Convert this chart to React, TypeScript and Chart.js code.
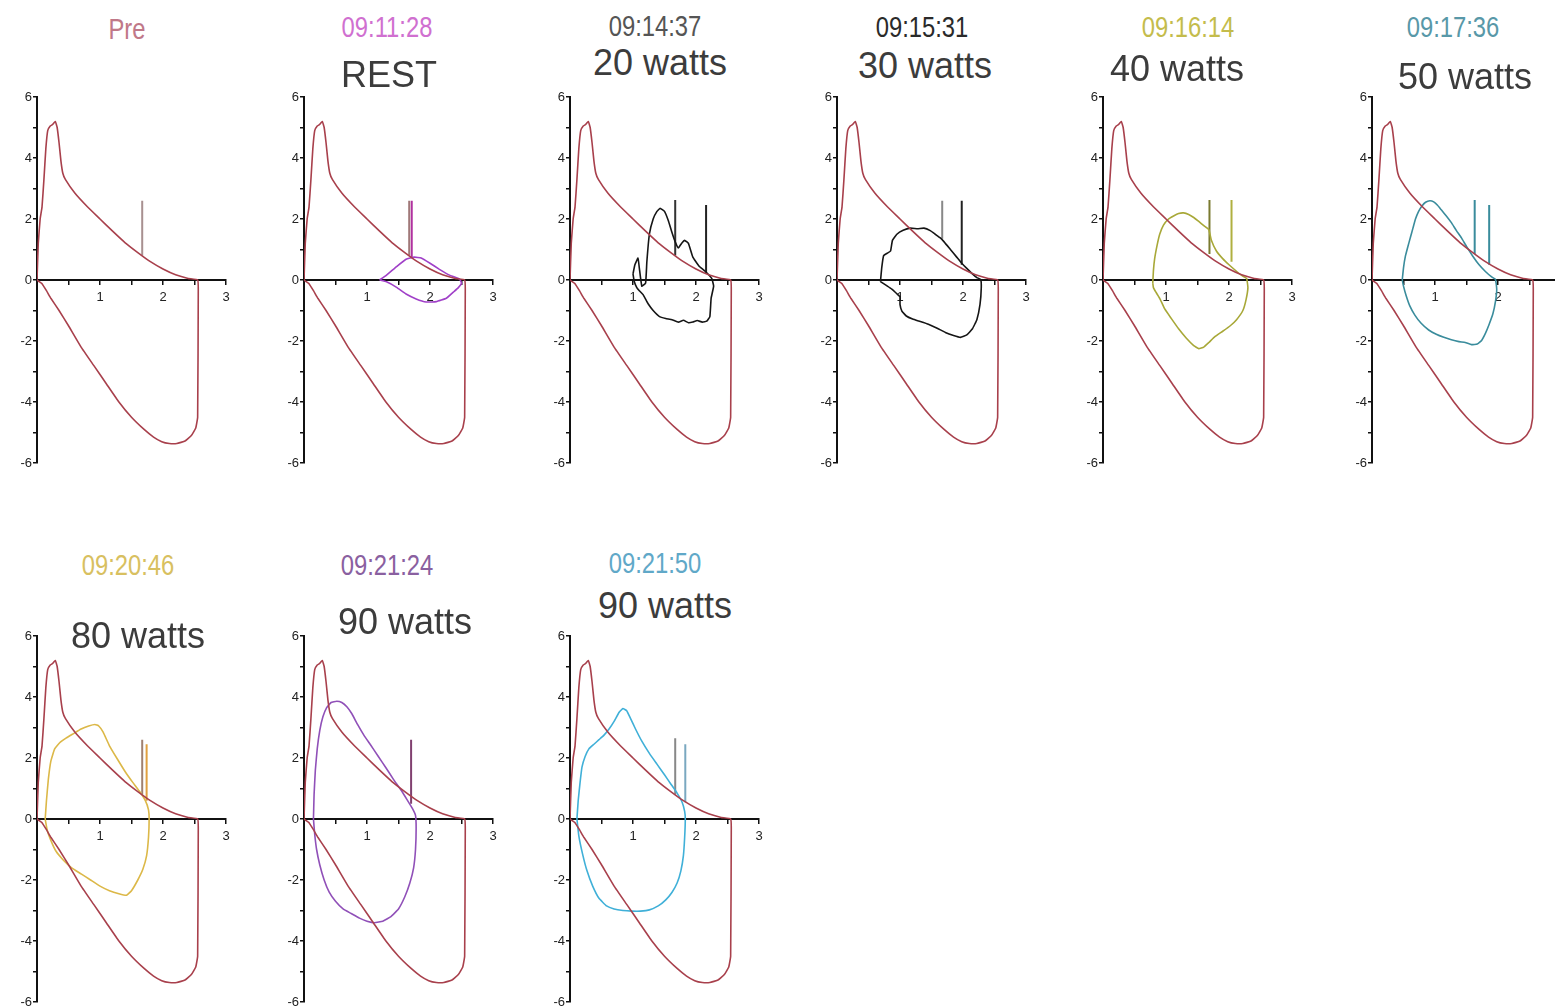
import React, { useEffect, useRef } from "react";
import { Chart, registerables } from "chart.js";

Chart.register(...registerables);

// ---------------- data ----------------
// maximal flow-volume loop (volume L, flow L/s), shared by all panels
const maxVolume = [0, 0.02, 0.05, 0.08, 0.11, 0.14, 0.17, 0.21, 0.25, 0.29, 0.32, 0.35, 0.38, 0.41, 0.45, 0.6, 0.8, 1.0, 1.2, 1.4, 1.6, 1.8, 2.0, 2.2, 2.4, 2.55, 2.56, 2.55, 2.52, 2.45, 2.35, 2.22, 2.1, 1.98, 1.85, 1.7, 1.5, 1.3, 1.1, 0.9, 0.7, 0.5, 0.35, 0.22, 0.15, 0.08, 0];
const maxFlow = [0, 1.2, 2.0, 2.4, 3.3, 4.3, 4.9, 5.05, 5.1, 5.2, 5.0, 4.5, 3.9, 3.5, 3.3, 2.85, 2.4, 2.0, 1.6, 1.22, 0.9, 0.6, 0.36, 0.17, 0.05, 0, -0.3, -4.5, -4.85, -5.1, -5.28, -5.36, -5.36, -5.3, -5.15, -4.9, -4.5, -4.0, -3.4, -2.8, -2.2, -1.5, -1.0, -0.6, -0.35, -0.12, 0];

// tidal loops
const restVolume = [1.2, 1.31, 1.47, 1.62, 1.75, 1.86, 2.0, 2.15, 2.31, 2.47, 2.5, 2.45, 2.37, 2.26, 2.1, 1.94, 1.78, 1.62, 1.47, 1.31, 1.2];
const restFlow = [0, 0.16, 0.44, 0.68, 0.75, 0.72, 0.55, 0.35, 0.16, 0.03, -0.1, -0.25, -0.4, -0.6, -0.71, -0.72, -0.62, -0.46, -0.24, -0.06, 0];

const w20Volume = [1.0, 1.03, 1.08, 1.1, 1.14, 1.2, 1.22, 1.26, 1.32, 1.38, 1.43, 1.5, 1.56, 1.62, 1.67, 1.72, 1.77, 1.82, 1.88, 1.95, 2.05, 2.15, 2.25, 2.28, 2.24, 2.22, 2.17, 2.1, 2.02, 1.95, 1.88, 1.8, 1.72, 1.62, 1.52, 1.42, 1.32, 1.24, 1.16, 1.1, 1.06, 1.02, 1.0];
const w20Flow = [0.2, 0.5, 0.72, 0.4, -0.2, -0.1, 0.6, 1.5, 2.0, 2.25, 2.35, 2.25, 1.95, 1.55, 1.25, 1.05, 1.2, 1.3, 1.2, 0.75, 0.45, 0.28, 0.05, -0.2, -0.6, -1.2, -1.35, -1.38, -1.33, -1.38, -1.4, -1.32, -1.38, -1.3, -1.26, -1.2, -1.0, -0.78, -0.48, -0.35, -0.25, -0.05, 0.2];

const w30Volume = [0.69, 0.71, 0.74, 0.8, 0.85, 0.88, 0.95, 1.05, 1.16, 1.28, 1.38, 1.48, 1.56, 1.64, 1.7, 1.8, 1.9, 1.98, 2.06, 2.14, 2.22, 2.28, 2.29, 2.27, 2.22, 2.15, 2.06, 1.96, 1.85, 1.72, 1.59, 1.45, 1.32, 1.2, 1.1, 1.03, 1.0, 1.0, 0.95, 0.87, 0.8, 0.74, 0.69];
const w30Flow = [-0.05, 0.4, 0.8, 0.88, 0.95, 1.3, 1.5, 1.63, 1.7, 1.68, 1.7, 1.62, 1.5, 1.38, 1.25, 1.0, 0.75, 0.55, 0.38, 0.22, 0.08, 0.02, -0.25, -0.8, -1.3, -1.6, -1.8, -1.88, -1.82, -1.72, -1.58, -1.45, -1.36, -1.28, -1.18, -1.02, -0.8, -0.55, -0.45, -0.3, -0.2, -0.12, -0.05];

const w40Volume = [0.79, 0.8, 0.82, 0.86, 0.9, 0.96, 1.04, 1.12, 1.2, 1.28, 1.36, 1.44, 1.52, 1.6, 1.68, 1.72, 1.8, 1.9, 2.0, 2.1, 2.2, 2.28, 2.3, 2.27, 2.22, 2.12, 2.02, 1.9, 1.78, 1.68, 1.6, 1.52, 1.44, 1.32, 1.2, 1.08, 0.98, 0.9, 0.84, 0.8, 0.79];
const w40Flow = [-0.1, 0.3, 0.7, 1.15, 1.5, 1.8, 2.0, 2.1, 2.18, 2.2, 2.15, 2.05, 1.92, 1.78, 1.65, 1.3, 0.95, 0.7, 0.5, 0.32, 0.15, 0.05, -0.25, -0.65, -1.0, -1.3, -1.5, -1.68, -1.85, -2.05, -2.2, -2.25, -2.15, -1.9, -1.6, -1.25, -0.95, -0.6, -0.4, -0.25, -0.1];

const w50Volume = [0.48, 0.5, 0.53, 0.57, 0.61, 0.65, 0.69, 0.74, 0.79, 0.85, 0.92, 0.98, 1.04, 1.1, 1.18, 1.26, 1.34, 1.42, 1.5, 1.6, 1.7, 1.8, 1.9, 1.96, 1.98, 1.96, 1.92, 1.86, 1.8, 1.74, 1.67, 1.58, 1.48, 1.38, 1.26, 1.14, 1.02, 0.9, 0.78, 0.68, 0.6, 0.54, 0.5, 0.48];
const w50Flow = [0, 0.4, 0.78, 1.1, 1.4, 1.7, 2.0, 2.25, 2.42, 2.55, 2.6, 2.56, 2.45, 2.3, 2.1, 1.88, 1.62, 1.38, 1.1, 0.78, 0.5, 0.28, 0.1, 0.02, -0.3, -0.7, -1.1, -1.45, -1.75, -1.98, -2.1, -2.12, -2.05, -2.02, -1.96, -1.88, -1.78, -1.64, -1.42, -1.15, -0.85, -0.5, -0.2, 0];

const w80Volume = [0.13, 0.15, 0.18, 0.22, 0.28, 0.36, 0.46, 0.58, 0.7, 0.82, 0.92, 0.98, 1.05, 1.15, 1.28, 1.4, 1.52, 1.63, 1.72, 1.77, 1.78, 1.77, 1.74, 1.68, 1.6, 1.5, 1.42, 1.3, 1.15, 1.0, 0.85, 0.7, 0.55, 0.42, 0.3, 0.22, 0.16, 0.13];
const w80Flow = [0, 0.6, 1.3, 1.9, 2.3, 2.5, 2.65, 2.8, 2.95, 3.05, 3.1, 3.05, 2.85, 2.4, 1.95, 1.55, 1.2, 0.9, 0.6, 0.3, 0, -0.6, -1.2, -1.65, -2.0, -2.35, -2.5, -2.45, -2.35, -2.2, -2.0, -1.8, -1.6, -1.35, -1.05, -0.7, -0.35, 0];

const w90aVolume = [0.15, 0.16, 0.18, 0.21, 0.25, 0.3, 0.36, 0.43, 0.52, 0.6, 0.68, 0.76, 0.85, 0.95, 1.05, 1.18, 1.3, 1.42, 1.54, 1.64, 1.72, 1.77, 1.78, 1.77, 1.74, 1.68, 1.6, 1.5, 1.38, 1.25, 1.12, 1.0, 0.88, 0.75, 0.62, 0.5, 0.4, 0.32, 0.25, 0.2, 0.17, 0.15];
const w90aFlow = [0, 0.8, 1.6, 2.3, 2.9, 3.35, 3.65, 3.82, 3.86, 3.82, 3.68, 3.45, 3.1, 2.75, 2.45, 2.05, 1.68, 1.3, 0.95, 0.62, 0.35, 0.12, -0.3, -1.0, -1.6, -2.1, -2.55, -2.95, -3.2, -3.35, -3.4, -3.35, -3.25, -3.1, -2.95, -2.7, -2.4, -2.0, -1.5, -1.0, -0.5, 0];

const w90bVolume = [0.11, 0.13, 0.16, 0.19, 0.24, 0.3, 0.38, 0.46, 0.54, 0.62, 0.7, 0.78, 0.84, 0.9, 0.96, 1.04, 1.14, 1.26, 1.38, 1.5, 1.6, 1.7, 1.78, 1.82, 1.83, 1.82, 1.8, 1.76, 1.7, 1.62, 1.52, 1.4, 1.26, 1.12, 0.98, 0.84, 0.7, 0.58, 0.46, 0.36, 0.27, 0.2, 0.14, 0.11];
const w90bFlow = [0, 0.6, 1.2, 1.7, 2.05, 2.3, 2.45, 2.6, 2.75, 2.95, 3.2, 3.5, 3.62, 3.55, 3.3, 2.95, 2.55, 2.15, 1.8, 1.45, 1.15, 0.85, 0.55, 0.25, 0, -0.6, -1.2, -1.7, -2.1, -2.4, -2.65, -2.85, -2.98, -3.02, -3.02, -3.0, -2.95, -2.85, -2.6, -2.2, -1.7, -1.15, -0.55, 0];

// vertical IC markers (volume, top flow, bottom flow) per panel
const markerVolumes = [[1.67], [1.67, 1.71], [1.67, 2.16], [1.67, 1.98], [1.69, 2.04], [1.63, 1.86], [1.67, 1.74], [1.7], [1.67, 1.83]];
const markerTops = [[2.6], [2.6, 2.6], [2.62, 2.46], [2.6, 2.6], [2.62, 2.62], [2.62, 2.46], [2.6, 2.45], [2.6], [2.65, 2.45]];
const markerBottoms = [[0.8], [0.8, 0.75], [0.8, 0.22], [1.35, 0.5], [0.85, 0.6], [0.85, 0.5], [0.8, 0.6], [0.5], [0.8, 0.55]];

// titles
const panelTimes = ["Pre", "09:11:28", "09:14:37", "09:15:31", "09:16:14", "09:17:36", "09:20:46", "09:21:24", "09:21:50"];
const panelLoads = ["", "REST", "20 watts", "30 watts", "40 watts", "50 watts", "80 watts", "90 watts", "90 watts"];

// axis ranges / ticks
const volumeRange = [0, 3];
const flowRange = [-6, 6];

// ---------------- styles & layout ----------------
const loops: (number[][] | null)[] = [
  null,
  [restVolume, restFlow],
  [w20Volume, w20Flow],
  [w30Volume, w30Flow],
  [w40Volume, w40Flow],
  [w50Volume, w50Flow],
  [w80Volume, w80Flow],
  [w90aVolume, w90aFlow],
  [w90bVolume, w90bFlow],
];
const MAX_COLOR = "#a8404c";
const timeColors = ["#c07888", "#d070d0", "#555555", "#2a2a2a", "#c4bc4c", "#5898a8", "#d8c060", "#8a60a0", "#60a8c8"];
const loopColors = ["", "#a040c8", "#151515", "#151515", "#a8a838", "#3a8c9c", "#dcb848", "#9050b8", "#40b0d8"];
const markerColors = [["#a89090"], ["#a07878", "#b030a0"], ["#333333", "#222222"], ["#888888", "#222222"], ["#7a7a30", "#b0b040"], ["#3a8c9c", "#3a8c9c"], ["#a08070", "#e0a040"], ["#804070"], ["#888888", "#7aa8c0"]];

const PLOT_W = 189;
const PLOT_H = 366;
const Y_AXIS_W = 20;
const PAD = { left: 4, right: 10, top: 10, bottom: 22 };
const panelAxisX = [37, 304, 570, 837, 1103, 1372, 37, 304, 570];
const panelTopY = [97, 97, 97, 97, 97, 97, 636, 636, 636];
const timePos = [[127, 29], [387, 27], [655, 26], [922, 27], [1188, 27], [1453, 27], [128, 565], [387, 565], [655, 563]];
const loadPos = [[0, 0], [389, 75], [660, 63], [925, 66], [1177, 69], [1465, 77], [138, 636], [405, 622], [665, 606]];

function pts(xs: number[], ys: number[]) {
  return xs.map((x, i) => ({ x, y: ys[i] }));
}

function lineDs(xs: number[], ys: number[], color: string, width: number, tension: number) {
  return {
    data: pts(xs, ys),
    showLine: true,
    borderColor: color,
    backgroundColor: color,
    borderWidth: width,
    pointRadius: 0,
    pointHoverRadius: 0,
    fill: false,
    tension,
  };
}

function Panel({ idx }: { idx: number }) {
  const ref = useRef<HTMLCanvasElement | null>(null);
  useEffect(() => {
    const canvas = ref.current;
    if (!canvas) return;
    const datasets: any[] = [];
    datasets.push(lineDs(maxVolume, maxFlow, MAX_COLOR, 1.6, 0.1));
    const lp = loops[idx];
    if (lp) datasets.push(lineDs(lp[0], lp[1], loopColors[idx], 1.6, 0.1));
    markerVolumes[idx].forEach((v, k) => {
      datasets.push(lineDs([v, v], [markerTops[idx][k], markerBottoms[idx][k]], markerColors[idx][k], 2, 0));
    });
    const tickFont = { family: '"Liberation Sans", Arial, sans-serif', size: 13 };
    const chart = new Chart(canvas, {
      type: "scatter",
      data: { datasets },
      options: {
        animation: false,
        responsive: false,
        maintainAspectRatio: false,
        events: [],
        layout: { padding: PAD },
        plugins: { legend: { display: false }, tooltip: { enabled: false }, title: { display: false } },
        scales: {
          x: {
            type: "linear",
            min: volumeRange[0],
            max: volumeRange[1],
            position: { y: 0 } as any,
            afterFit: (s: any) => {
              s.height = 0;
            },
            border: { display: true, color: "#111", width: 2 },
            grid: { display: true, drawOnChartArea: false, drawTicks: true, tickLength: 4, color: "#111", lineWidth: 1.5 },
            ticks: {
              stepSize: 0.5,
              autoSkip: false,
              maxRotation: 0,
              padding: 6,
              color: "#222",
              font: tickFont,
              callback: (v: any) => (Number.isInteger(Number(v)) && Number(v) !== 0 ? String(v) : ""),
            },
          },
          y: {
            type: "linear",
            min: flowRange[0],
            max: flowRange[1],
            position: "left",
            afterFit: (s: any) => {
              s.width = Y_AXIS_W;
            },
            border: { display: true, color: "#111", width: 2 },
            grid: { display: true, drawOnChartArea: false, drawTicks: true, tickLength: 4, color: "#111", lineWidth: 1.5 },
            ticks: {
              stepSize: 1,
              autoSkip: false,
              padding: 1,
              color: "#222",
              font: tickFont,
              callback: (v: any) => (Math.round(Number(v)) % 2 === 0 ? String(v) : ""),
            },
          },
        },
      } as any,
    });
    return () => chart.destroy();
  }, [idx]);
  const w = PLOT_W + Y_AXIS_W + PAD.left + PAD.right;
  const h = PLOT_H + PAD.top + PAD.bottom;
  const offsetLeft = PAD.left + Y_AXIS_W;
  return (
    <canvas
      ref={ref}
      width={w}
      height={h}
      style={{ position: "absolute", left: panelAxisX[idx] - offsetLeft, top: panelTopY[idx] - PAD.top, width: w, height: h }}
    />
  );
}

export default function App() {
  return (
    <div style={{ position: "absolute", left: 0, top: 0, width: 1555, height: 1008, overflow: "hidden", background: "#fff" }}>
      {panelTimes.map((_, i) => (
        <Panel key={"p" + i} idx={i} />
      ))}
      {panelTimes.map((t, i) => (
        <div
          key={"t" + i}
          style={{
            position: "absolute",
            left: timePos[i][0],
            top: timePos[i][1],
            transform: "translate(-50%, -50%) scaleX(0.82)",
            fontFamily: '"Liberation Sans", Arial, sans-serif',
            fontSize: 29,
            lineHeight: 1,
            color: timeColors[i],
            whiteSpace: "nowrap",
          }}
        >
          {t}
        </div>
      ))}
      {panelLoads.map((t, i) =>
        t ? (
          <div
            key={"l" + i}
            style={{
              position: "absolute",
              left: loadPos[i][0],
              top: loadPos[i][1],
              transform: "translate(-50%, -50%)",
              fontFamily: '"Liberation Sans", Arial, sans-serif',
              fontSize: 36,
              lineHeight: 1,
              color: "#3c3c3c",
              whiteSpace: "nowrap",
            }}
          >
            {t}
          </div>
        ) : null
      )}
    </div>
  );
}
